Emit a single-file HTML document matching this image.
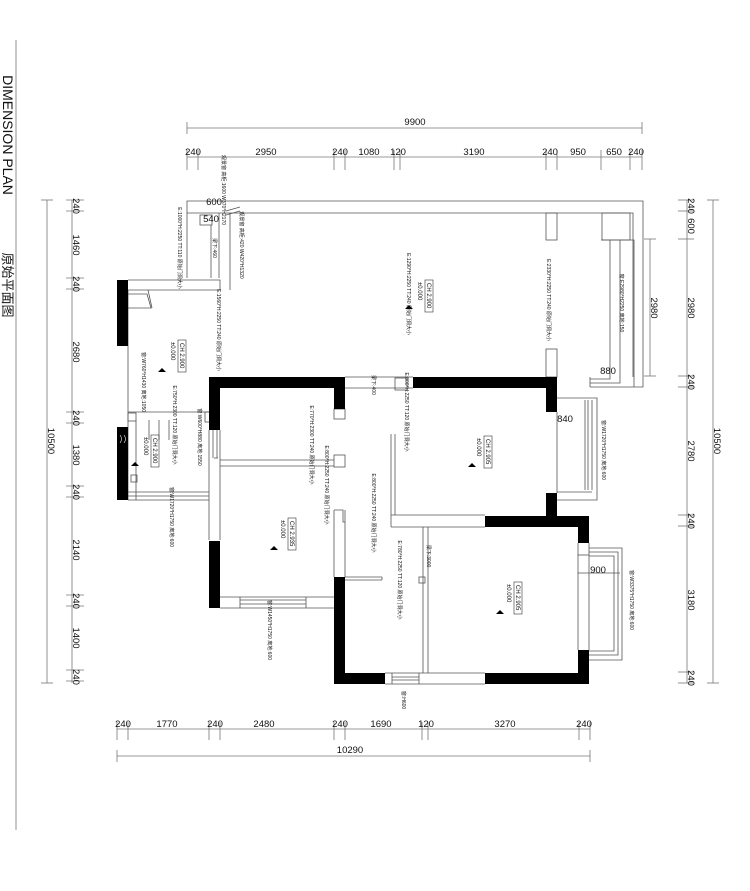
<!DOCTYPE html>
<html><head><meta charset="utf-8"><style>
html,body{margin:0;padding:0;background:#fff;width:750px;height:891px;overflow:hidden}
svg{display:block}
text{font-family:"Liberation Sans","Noto Sans CJK SC",sans-serif;fill:#111}
.d{font-size:9.5px}
.s{font-size:5px;fill:#333}
.t{font-size:6px}
</style></head><body>
<svg width="750" height="891" viewBox="0 0 750 891" xmlns="http://www.w3.org/2000/svg">
<g stroke="#777" stroke-width="0.8" fill="none">
<!-- title line -->
<line x1="16" y1="40" x2="16" y2="830"/>
<!-- top dims -->
<line x1="187" y1="128" x2="642" y2="128"/>
<line x1="187" y1="122" x2="187" y2="134"/><line x1="642" y1="122" x2="642" y2="134"/>
<line x1="187" y1="157" x2="642" y2="157"/>
<g>
<line x1="187" y1="150" x2="187" y2="170"/><line x1="198" y1="150" x2="198" y2="170"/>
<line x1="334" y1="150" x2="334" y2="170"/><line x1="345" y1="150" x2="345" y2="170"/>
<line x1="394" y1="150" x2="394" y2="170"/><line x1="400" y1="150" x2="400" y2="170"/>
<line x1="546" y1="150" x2="546" y2="170"/><line x1="557" y1="150" x2="557" y2="170"/>
<line x1="601" y1="150" x2="601" y2="170"/><line x1="630" y1="150" x2="630" y2="170"/>
<line x1="642" y1="150" x2="642" y2="170"/>
</g>
<!-- bottom dims -->
<line x1="117" y1="729" x2="590" y2="729"/>
<line x1="117" y1="722" x2="117" y2="740"/><line x1="128" y1="722" x2="128" y2="740"/>
<line x1="209" y1="722" x2="209" y2="740"/><line x1="220" y1="722" x2="220" y2="740"/>
<line x1="334" y1="722" x2="334" y2="740"/><line x1="345" y1="722" x2="345" y2="740"/>
<line x1="422" y1="722" x2="422" y2="740"/><line x1="428" y1="722" x2="428" y2="740"/>
<line x1="579" y1="722" x2="579" y2="740"/><line x1="590" y1="722" x2="590" y2="740"/>
<line x1="117" y1="756" x2="590" y2="756"/>
<line x1="117" y1="750" x2="117" y2="762"/><line x1="590" y1="750" x2="590" y2="762"/>
<!-- left dims -->
<line x1="72" y1="200" x2="72" y2="683"/>
<g>
<line x1="66" y1="200" x2="84" y2="200"/><line x1="66" y1="211" x2="84" y2="211"/>
<line x1="66" y1="278" x2="84" y2="278"/><line x1="66" y1="289" x2="84" y2="289"/>
<line x1="66" y1="412" x2="84" y2="412"/><line x1="66" y1="423" x2="84" y2="423"/>
<line x1="66" y1="486" x2="84" y2="486"/><line x1="66" y1="497" x2="84" y2="497"/>
<line x1="66" y1="595" x2="84" y2="595"/><line x1="66" y1="606" x2="84" y2="606"/>
<line x1="66" y1="670" x2="84" y2="670"/><line x1="66" y1="681" x2="84" y2="681"/>
</g>
<line x1="47" y1="200" x2="47" y2="683"/>
<line x1="41" y1="200" x2="53" y2="200"/><line x1="41" y1="683" x2="53" y2="683"/>
<!-- right dims -->
<line x1="687" y1="200" x2="687" y2="683"/>
<g>
<line x1="678" y1="200" x2="694" y2="200"/><line x1="678" y1="211" x2="694" y2="211"/>
<line x1="678" y1="239" x2="694" y2="239"/><line x1="678" y1="376" x2="694" y2="376"/>
<line x1="678" y1="387" x2="694" y2="387"/><line x1="678" y1="515" x2="694" y2="515"/>
<line x1="678" y1="526" x2="694" y2="526"/><line x1="678" y1="672" x2="694" y2="672"/>
<line x1="678" y1="683" x2="694" y2="683"/>
</g>
<line x1="713" y1="200" x2="713" y2="683"/>
<line x1="707" y1="200" x2="719" y2="200"/><line x1="707" y1="683" x2="719" y2="683"/>
<line x1="650" y1="239" x2="650" y2="376"/>
<line x1="644" y1="239" x2="656" y2="239"/><line x1="644" y1="376" x2="656" y2="376"/>
</g>

<!-- plan thin lines -->
<g stroke="#555" stroke-width="0.8" fill="none">
<!-- top outer wall -->
<polyline points="187,278 187,201 643,201 643,387 590,387"/>
<polyline points="230,290 230,213 633,213 633,377"/>
<line x1="187" y1="213" x2="230" y2="213"/>
<rect x="200" y="215" width="12" height="10"/>
<line x1="211" y1="225" x2="211" y2="278"/>
<line x1="219" y1="213" x2="219" y2="278"/>
<polyline points="128,280 220,280 220,290 128,290"/>
<line x1="226" y1="211" x2="240" y2="207"/><line x1="226" y1="215" x2="240" y2="211"/>
<!-- top-right column -->
<rect x="602" y="213" width="28" height="27"/>
<rect x="546" y="213" width="11" height="27"/>
<rect x="546" y="349" width="11" height="28"/>
<!-- right balcony -->
<polyline points="601,240 634,240 634,387"/>
<polyline points="610,240 610,379 590,379"/>
<polyline points="620,240 620,383 590,383"/>
<line x1="590" y1="377" x2="590" y2="387"/>
<!-- left walls -->
<line x1="128" y1="290" x2="128" y2="500"/>
<line x1="148" y1="290" x2="152" y2="308"/><polyline points="128,294 147,294 151,308 128,308"/>
<line x1="128" y1="412" x2="209" y2="412"/>
<rect x="128" y="413" width="8" height="8"/>
<line x1="136" y1="420" x2="136" y2="500"/>
<line x1="128" y1="500" x2="209" y2="500"/>
<line x1="128" y1="492" x2="209" y2="492"/><line x1="128" y1="496" x2="209" y2="496"/>
<rect x="131" y="475" width="6" height="7"/>
<line x1="209" y1="430" x2="209" y2="540"/>
<line x1="220" y1="430" x2="220" y2="540"/>
<rect x="205" y="412" width="5" height="10"/>
<line x1="213" y1="428" x2="213" y2="458"/><line x1="217" y1="428" x2="217" y2="458"/>
<line x1="214" y1="428" x2="218" y2="428"/><line x1="214" y1="458" x2="218" y2="458"/>
<line x1="169" y1="420" x2="169" y2="440"/><line x1="159" y1="420" x2="159" y2="440"/><line x1="149" y1="420" x2="149" y2="440"/>
<!-- left bedroom -->
<line x1="220" y1="460" x2="334" y2="460"/><line x1="220" y1="466" x2="334" y2="466"/>
<rect x="334" y="455" width="11" height="12"/>
<line x1="220" y1="597" x2="334" y2="597"/><line x1="220" y1="608" x2="334" y2="608"/>
<line x1="240" y1="600" x2="306" y2="600"/><line x1="240" y1="604" x2="306" y2="604"/>
<line x1="240" y1="597" x2="240" y2="608"/><line x1="306" y1="597" x2="306" y2="608"/>
<line x1="334" y1="510" x2="334" y2="577"/><line x1="345" y1="510" x2="345" y2="577"/>
<polyline points="334,510 343,510 343,522 345,522"/>
<rect x="334" y="409" width="11" height="10"/>
<line x1="345" y1="377" x2="413" y2="377"/><line x1="345" y1="388" x2="413" y2="388"/>
<rect x="395" y="378" width="12" height="12"/>
<!-- middle bedroom -->
<line x1="391" y1="434" x2="391" y2="515"/><line x1="395" y1="434" x2="395" y2="515"/>
<line x1="391" y1="515" x2="485" y2="515"/><line x1="391" y1="527" x2="485" y2="527"/>
<line x1="391" y1="515" x2="391" y2="527"/>
<line x1="557" y1="412" x2="557" y2="493"/>
<polyline points="557,398 597,398 597,500 557,500"/>
<line x1="585" y1="400" x2="585" y2="490"/><line x1="588" y1="400" x2="588" y2="490"/><line x1="592" y1="400" x2="592" y2="490"/>
<line x1="557" y1="492" x2="592" y2="492"/>
<!-- bottom room -->
<line x1="423" y1="527" x2="423" y2="673"/><line x1="428" y1="527" x2="428" y2="673"/>
<rect x="419" y="577" width="6" height="6"/>
<line x1="345" y1="577" x2="382" y2="577"/><line x1="345" y1="580" x2="382" y2="580"/><line x1="382" y1="577" x2="382" y2="580"/>
<line x1="385" y1="673" x2="485" y2="673"/><line x1="385" y1="684" x2="485" y2="684"/>
<line x1="392" y1="673" x2="392" y2="684"/><line x1="419" y1="673" x2="419" y2="684"/>
<line x1="392" y1="677" x2="419" y2="677"/><line x1="392" y1="680" x2="419" y2="680"/>
<line x1="589" y1="543" x2="589" y2="650"/>
<line x1="578" y1="543" x2="578" y2="650"/>
<polyline points="589,548 622,548 622,660 589,660"/>
<polyline points="589,552 618,552 618,655 589,655"/>
<polyline points="589,556 614,556 614,651 589,651"/>
<line x1="578" y1="573" x2="620" y2="573"/>
<line x1="578" y1="555" x2="589" y2="555"/>
</g>

<!-- black walls -->
<g fill="#000">
<rect x="117" y="280" width="11" height="66"/>
<rect x="117" y="427" width="11" height="73"/>
<rect x="209" y="377" width="136" height="11"/>
<rect x="209" y="377" width="11" height="53"/>
<rect x="334" y="377" width="11" height="32"/>
<rect x="413" y="377" width="144" height="11"/>
<rect x="546" y="377" width="11" height="35"/>
<rect x="546" y="493" width="11" height="24"/>
<rect x="485" y="516" width="104" height="11"/>
<rect x="578" y="516" width="11" height="27"/>
<rect x="578" y="650" width="11" height="34"/>
<rect x="485" y="673" width="104" height="11"/>
<rect x="334" y="577" width="11" height="107"/>
<rect x="334" y="673" width="51" height="11"/>
<rect x="209" y="541" width="11" height="67"/>
</g>
<g stroke="#fff" stroke-width="0.6" fill="none"><path d="M120 435 q3 4 0 8 M124 435 q3 4 0 8"/></g>

<!-- dimension labels -->
<text class="d" x="415" y="125" text-anchor="middle">9900</text>
<g class="d" text-anchor="middle">
<text x="193" y="155">240</text><text x="266" y="155">2950</text><text x="340" y="155">240</text>
<text x="369" y="155">1080</text><text x="398" y="155">120</text><text x="474" y="155">3190</text>
<text x="550" y="155">240</text><text x="578" y="155">950</text><text x="614" y="155">650</text><text x="636" y="155">240</text>
<text x="123" y="727">240</text><text x="167" y="727">1770</text><text x="215" y="727">240</text>
<text x="264" y="727">2480</text><text x="340" y="727">240</text><text x="381" y="727">1690</text>
<text x="426" y="727">120</text><text x="505" y="727">3270</text><text x="584" y="727">240</text>
<text x="350" y="753">10290</text>
<text x="214" y="205">600</text><text x="211" y="222">540</text>
<text x="608" y="374">880</text><text x="565" y="422">840</text><text x="598" y="573">900</text>
</g>
<g class="d" text-anchor="middle">
<text transform="translate(73,206) rotate(90)">240</text>
<text transform="translate(73,245) rotate(90)">1460</text>
<text transform="translate(73,284) rotate(90)">240</text>
<text transform="translate(73,352) rotate(90)">2680</text>
<text transform="translate(73,418) rotate(90)">240</text>
<text transform="translate(73,455) rotate(90)">1380</text>
<text transform="translate(73,492) rotate(90)">240</text>
<text transform="translate(73,550) rotate(90)">2140</text>
<text transform="translate(73,601) rotate(90)">240</text>
<text transform="translate(73,638) rotate(90)">1400</text>
<text transform="translate(73,677) rotate(90)">240</text>
<text transform="translate(48,441) rotate(90)">10500</text>
<text transform="translate(688,206) rotate(90)">240</text>
<text transform="translate(688,226) rotate(90)">600</text>
<text transform="translate(688,308) rotate(90)">2980</text>
<text transform="translate(688,382) rotate(90)">240</text>
<text transform="translate(688,451) rotate(90)">2780</text>
<text transform="translate(688,521) rotate(90)">240</text>
<text transform="translate(688,600) rotate(90)">3180</text>
<text transform="translate(688,678) rotate(90)">240</text>
<text transform="translate(714,441) rotate(90)">10500</text>
<text transform="translate(651,308) rotate(90)">2980</text>
</g>

<!-- title -->
<text transform="translate(3,135) rotate(90)" text-anchor="middle" style="font-size:14px">DIMENSION PLAN</text>
<text transform="translate(3,285) rotate(90)" text-anchor="middle" style="font-size:13px">原始平面图</text>

<!-- room tags -->
<g class="t">
<g transform="translate(424,296) rotate(90)"><rect x="-16" y="-9" width="32" height="8" fill="none" stroke="#333" stroke-width="0.6"/><text x="-13" y="-3">CH 2.900</text><text x="-14" y="6">±0.000</text></g>
<g transform="translate(177,356) rotate(90)"><rect x="-16" y="-9" width="32" height="8" fill="none" stroke="#333" stroke-width="0.6"/><text x="-13" y="-3">CH 2.900</text><text x="-14" y="6">±0.000</text></g>
<g transform="translate(150,451) rotate(90)"><rect x="-16" y="-9" width="32" height="8" fill="none" stroke="#333" stroke-width="0.6"/><text x="-13" y="-3">CH 2.900</text><text x="-14" y="6">±0.000</text></g>
<g transform="translate(483,452) rotate(90)"><rect x="-16" y="-9" width="32" height="8" fill="none" stroke="#333" stroke-width="0.6"/><text x="-13" y="-3">CH 2.905</text><text x="-14" y="6">±0.000</text></g>
<g transform="translate(287,534) rotate(90)"><rect x="-16" y="-9" width="32" height="8" fill="none" stroke="#333" stroke-width="0.6"/><text x="-13" y="-3">CH 2.935</text><text x="-14" y="6">±0.000</text></g>
<g transform="translate(513,598) rotate(90)"><rect x="-16" y="-9" width="32" height="8" fill="none" stroke="#333" stroke-width="0.6"/><text x="-13" y="-3">CH 2.905</text><text x="-14" y="6">±0.000</text></g>
</g>
<g fill="#000">
<path d="M405 309 l4 -4 l4 4z"/><path d="M158 372 l4 -4 l4 4z"/><path d="M131 466 l4 -4 l4 4z"/>
<path d="M468 467 l4 -4 l4 4z"/><path d="M270 550 l4 -4 l4 4z"/><path d="M496 614 l4 -4 l4 4z"/>
</g>

<!-- small annotations -->
<g class="s">
<text transform="translate(222,190) rotate(90)" text-anchor="middle">观景窗 高柜:1600 W370*H2170</text>
<text transform="translate(240,245) rotate(90)" text-anchor="middle">观景窗 高柜:420 W420*H1320</text>
<text transform="translate(178,248) rotate(90)" text-anchor="middle">E:1000*H:2250 TT:110 原始门洞大小</text>
<text transform="translate(213,248) rotate(90)" text-anchor="middle">梁下:460</text>
<text transform="translate(217,330) rotate(90)" text-anchor="middle">E:1560*H:2250 TT:240 原始门洞大小</text>
<text transform="translate(142,382) rotate(90)" text-anchor="middle">窗:W760*H1430 离地:1050</text>
<text transform="translate(173,425) rotate(90)" text-anchor="middle">E:750*H:2300 TT:120 原始门洞大小</text>
<text transform="translate(198,437) rotate(90)" text-anchor="middle">窗:W600*H880 离地:1550</text>
<text transform="translate(170,517) rotate(90)" text-anchor="middle">窗:W1720*H1750 离地:600</text>
<text transform="translate(310,445) rotate(90)" text-anchor="middle">E:770*H:2300 TT:240 原始门洞大小</text>
<text transform="translate(325,485) rotate(90)" text-anchor="middle">E:800*H:2250 TT:240 原始门洞大小</text>
<text transform="translate(372,385) rotate(90)" text-anchor="middle">梁下:400</text>
<text transform="translate(405,412) rotate(90)" text-anchor="middle">E:800*H:2250 TT:120 原始门洞大小</text>
<text transform="translate(372,513) rotate(90)" text-anchor="middle">E:800*H:2250 TT:240 原始门洞大小</text>
<text transform="translate(398,580) rotate(90)" text-anchor="middle">E:780*H:2250 TT:120 原始门洞大小</text>
<text transform="translate(427,556) rotate(90)" text-anchor="middle">梁下:3000</text>
<text transform="translate(407,294) rotate(90)" text-anchor="middle">E:1290*H:2250 TT:240 原始门洞大小</text>
<text transform="translate(547,300) rotate(90)" text-anchor="middle">E:2330*H:2250 TT:240 原始门洞大小</text>
<text transform="translate(620,303) rotate(90)" text-anchor="middle">窗:E2980*H2250 离地:150</text>
<text transform="translate(602,450) rotate(90)" text-anchor="middle">窗:W1720*H1750 离地:600</text>
<text transform="translate(268,630) rotate(90)" text-anchor="middle">窗:W1450*H1750 离地:600</text>
<text transform="translate(630,600) rotate(90)" text-anchor="middle">窗:W3375*H1750 离地:600</text>
<text transform="translate(402,700) rotate(90)" text-anchor="middle">窗:H600</text>
</g>
</svg>
</body></html>
